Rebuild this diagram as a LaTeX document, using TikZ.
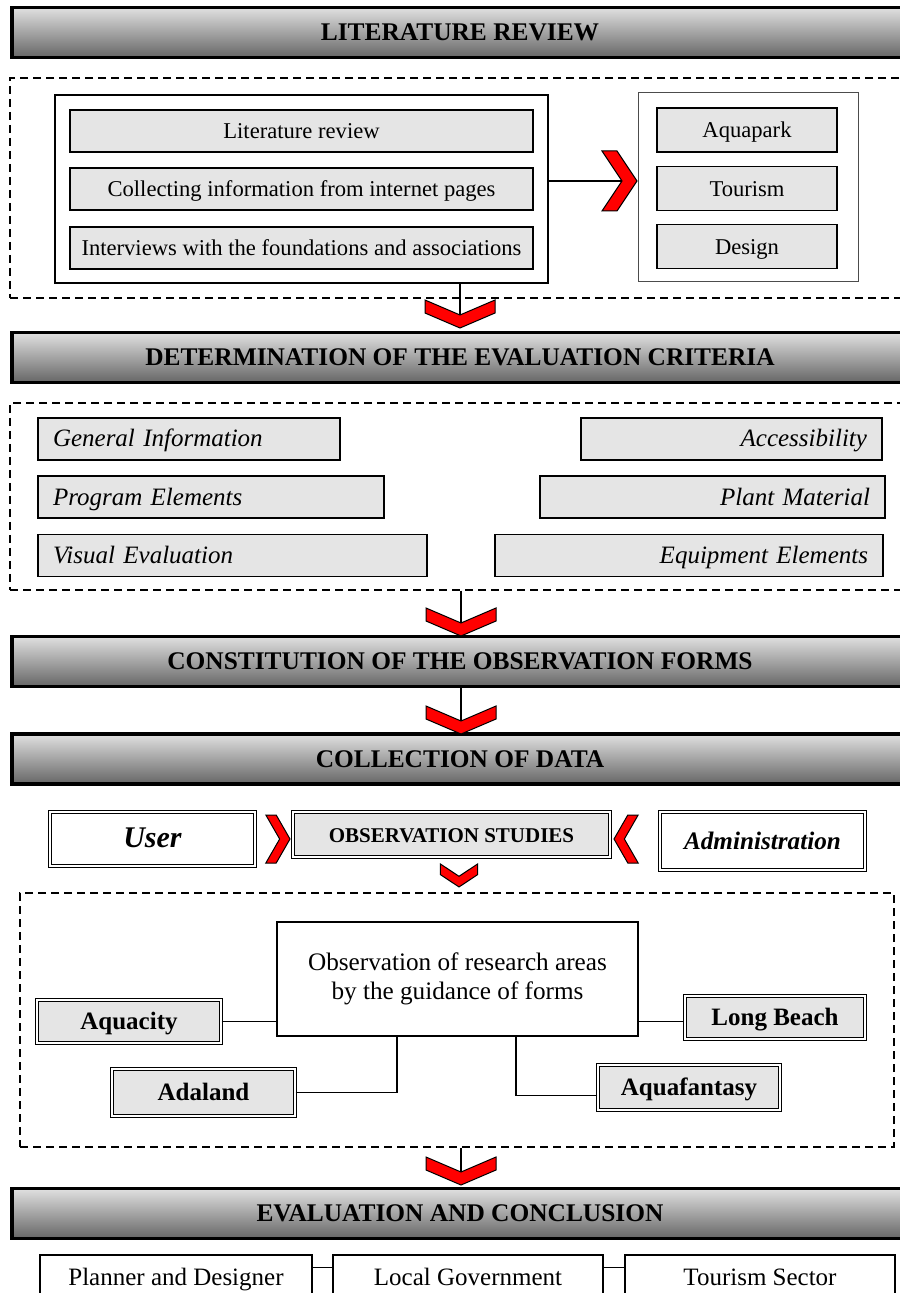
\documentclass[tikz,border=0pt]{standalone}
\usepackage{fontspec}
\setmainfont{Liberation Serif}
\tikzset{
  stage bar/.style={
    draw,
    line width=1.8pt,
    top color=black!12,
    bottom color=black!60,
    minimum width=448pt,
    minimum height=25pt,
    text height=0.9em,
    text depth=0.1em,
    font=\fontsize{12.7}{15}\selectfont\bfseries,
  },
  group box/.style={
    draw,
    dash pattern=on 4pt off 2.5pt,
    line width=0.7pt,
    inner sep=0pt,
  },
  item box/.style={
    draw,
    fill=black!10,
    line width=0.9pt,
    minimum height=21pt,
    inner sep=0pt,
    text height=0.9em,
    text depth=0.1em,
    font=\fontsize{11.3}{13}\selectfont,
  },
  crit box/.style={
    draw,
    fill=black!10,
    line width=0.9pt,
    minimum height=21pt,
    inner xsep=7.5pt,
    inner ysep=0pt,
    text height=0.9em,
    text depth=0.1em,
    font=\fontsize{12.5}{14}\selectfont\itshape,
  },
  site box/.style={
    draw,
    double,
    double distance=1.2pt,
    line width=0.6pt,
    fill=black!10,
    inner sep=0pt,
    text height=0.9em,
    text depth=0.1em,
    font=\fontsize{12.5}{14}\selectfont\bfseries,
  },
  plain box/.style={
    draw,
    line width=0.8pt,
    fill=white,
    inner sep=0pt,
    align=center,
  },
  red chevron/.style={
    draw=black,
    fill=red,
    line width=0.5pt,
  },
  chevron down/.pic={
    \draw[red chevron] (-35,0) -- (0,15) -- (35,0) -- (35,13) -- (0,28) -- (-35,13) -- cycle;
    \coordinate (-in) at (0,15);
  },
  chevron right/.pic={
    \draw[red chevron] (-35,-30) -- (-20,-30) -- (0,0) -- (-20,30) -- (-35,30) -- (-15,0) -- cycle;
    \coordinate (-in) at (-15,0);
  },
}

\begin{document}
\begin{tikzpicture}[x=0.5pt, y=-0.5pt]
      \useasboundingbox (0,0) rectangle (899,1293);

      \node[stage bar] (litreview) at (460,32.5) {LITERATURE REVIEW};
      \node[stage bar] (criteria) at (460,357.5) {DETERMINATION OF THE EVALUATION CRITERIA};
      \node[stage bar] (forms) at (460,661.5) {CONSTITUTION OF THE OBSERVATION FORMS};
      \node[stage bar] (datacoll) at (460,759) {COLLECTION OF DATA};
      \node[stage bar] (conclusion) at (460,1213.5) {EVALUATION AND CONCLUSION};

      \node[group box, minimum width=450pt, minimum height=110pt] (litgroup) at (460,188) {};
      \node[group box, minimum width=450pt, minimum height=93.5pt] (critgroup) at (460,496.5) {};
      \node[group box, minimum width=437pt, minimum height=127pt] (areagroup) at (457,1020) {};

      \node[draw, line width=1pt, minimum width=246.5pt, minimum height=94pt] (litframe) at (301.5,189) {};
      \node[draw=black!70, line width=0.5pt, minimum width=110pt, minimum height=94.5pt] (topicframe) at (748,187.5) {};

      \node[item box, minimum width=231.5pt] (lit1) at (301.5,131) {Literature review};
      \node[item box, minimum width=231.5pt] (lit2) at (301.5,189) {Collecting information from internet pages};
      \node[item box, minimum width=231.5pt] (lit3) at (301.5,248) {Interviews with the foundations and associations};
      \node[item box, minimum width=90pt, minimum height=22pt] (aquapark) at (747,130) {Aquapark};
      \node[item box, minimum width=90pt, minimum height=22pt] (tourism) at (747,188.5) {Tourism};
      \node[item box, minimum width=90pt, minimum height=22pt] (design) at (747,246.5) {Design};

      \node[crit box, text width=136pt, align=left] (general) at (189,439) {General Information};
      \node[crit box, text width=158pt, align=left] (program) at (211,497) {Program Elements};
      \node[crit box, text width=179.5pt, align=left] (visual) at (232.5,555.5) {Visual Evaluation};
      \node[crit box, text width=135.5pt, align=right] (access) at (731.5,439) {Accessibility};
      \node[crit box, text width=157.5pt, align=right] (plant) at (712.5,497) {Plant Material};
      \node[crit box, text width=179pt, align=right] (equip) at (689,555.5) {Equipment Elements};

      \node[site box, fill=white, minimum width=102.5pt, minimum height=27pt, font=\fontsize{15}{17}\selectfont\bfseries\itshape] (user) at (152.5,839) {User};
      \node[site box, minimum width=158.5pt, minimum height=22.5pt, font=\fontsize{10.5}{12}\selectfont\bfseries] (obsstudies) at (451.5,834.5) {OBSERVATION STUDIES};
      \node[site box, fill=white, minimum width=102.5pt, minimum height=29pt, font=\fontsize{12.6}{14}\selectfont\bfseries\itshape] (admin) at (762.5,841) {Administration};

      \node[plain box, line width=0.9pt, minimum width=180.5pt, minimum height=57pt, font=\fontsize{12.6}{14.5}\selectfont] (obsarea) at (457.5,979) {Observation of research areas\\by the guidance of forms};
      \node[site box, minimum width=92pt, minimum height=21.5pt] (aquacity) at (129,1021.5) {Aquacity};
      \node[site box, minimum width=90pt, minimum height=21.5pt] (longbeach) at (775,1017.5) {Long Beach};
      \node[site box, minimum width=91.5pt, minimum height=23.5pt] (adaland) at (203.5,1092.5) {Adaland};
      \node[site box, minimum width=91pt, minimum height=22.5pt] (aquafantasy) at (689,1087.5) {Aquafantasy};

      \node[plain box, minimum width=136pt, minimum height=22.5pt, text height=0.9em, text depth=0.1em, font=\fontsize{12.5}{14}\selectfont] (planner) at (176,1277.5) {Planner and Designer};
      \node[plain box, minimum width=135pt, minimum height=22.5pt, text height=0.9em, text depth=0.1em, font=\fontsize{12.5}{14}\selectfont] (localgov) at (468,1277.5) {Local Government};
      \node[plain box, minimum width=135pt, minimum height=22.5pt, text height=0.9em, text depth=0.1em, font=\fontsize{12.5}{14}\selectfont] (tourismsec) at (760,1277.5) {Tourism Sector};

      \pic (chR) at (637,181) {chevron right};
      \pic (chA) at (460,300) {chevron down};
      \pic (chB) at (461,608) {chevron down};
      \pic (chC) at (461,706) {chevron down};
      \pic[xscale=0.53, yscale=0.82] (chD) at (459,864) {chevron down};
      \pic (chE) at (461,1157) {chevron down};
      \pic[xscale=0.69, yscale=0.8] (chU) at (290,839) {chevron right};
      \pic[xscale=-0.69, yscale=0.8] (chM) at (614,839) {chevron right};

      \draw[line width=0.7pt] (litframe.east |- chR-in) -- (chR-in);
      \draw[line width=0.6pt] (litframe.south -| chA-in) -- (chA-in);
      \draw[line width=0.6pt] (critgroup.south -| chB-in) -- (chB-in);
      \draw[line width=0.6pt] (forms.south -| chC-in) -- (chC-in);
      \draw[line width=0.6pt] (areagroup.south -| chE-in) -- (chE-in);

      \draw[line width=0.8pt] (aquacity.east) -- (aquacity.east -| obsarea.west);
      \draw[line width=0.8pt] (obsarea.east |- aquacity) -- (longbeach.west |- aquacity);
      \draw[line width=0.8pt] (adaland.east) -| ([xshift=60.5pt]obsarea.south west);
      \draw[line width=0.8pt] ([yshift=-4pt]aquafantasy.west) -| ([xshift=-61.5pt]obsarea.south east);

      \draw[line width=0.8pt] ([yshift=5pt]planner.east) -- ([yshift=5pt]localgov.west);
      \draw[line width=0.8pt] ([yshift=5pt]localgov.east) -- ([yshift=5pt]tourismsec.west);
\end{tikzpicture}
\end{document}
